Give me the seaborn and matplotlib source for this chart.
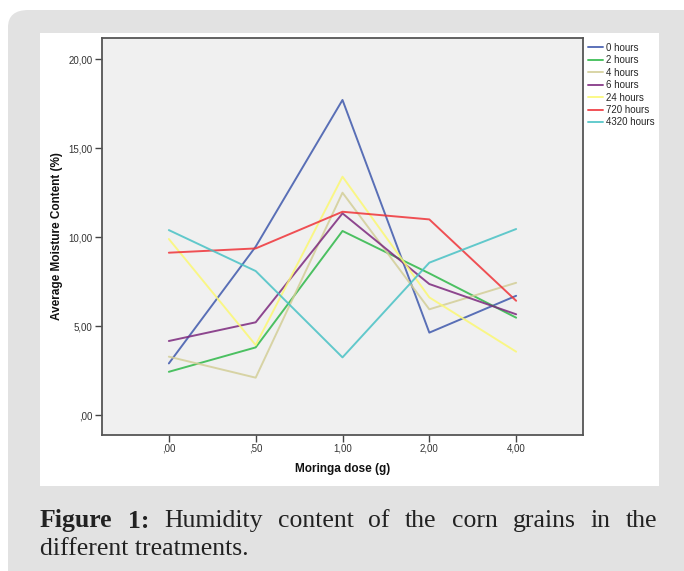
import matplotlib
matplotlib.use("Agg")
import matplotlib.pyplot as plt
import seaborn as sns
import pandas as pd
from matplotlib.patches import FancyBboxPatch, Rectangle

# ---- data ----
doses = [",00", ",50", "1,00", "2,00", "4,00"]
series_names = ["0 hours", "2 hours", "4 hours", "6 hours", "24 hours", "720 hours", "4320 hours"]
h0 = [2.90, 9.46, 17.70, 4.63, 6.70]
h2 = [2.43, 3.80, 10.34, 7.96, 5.47]
h4 = [3.28, 2.10, 12.49, 5.94, 7.43]
h6 = [4.16, 5.21, 11.33, 7.36, 5.66]
h24 = [9.89, 3.93, 13.39, 6.61, 3.56]
h720 = [9.12, 9.36, 11.42, 10.99, 6.42]
h4320 = [10.39, 8.09, 3.24, 8.56, 10.45]
yticks = [0, 5, 10, 15, 20]
ytick_labels = [",00", "5,00", "10,00", "15,00", "20,00"]
colors = ["#3E58AC", "#2EB848", "#D3CE97", "#7C287D", "#FBF873", "#EF3338", "#48C2C5"]

values = [h0, h2, h4, h6, h24, h720, h4320]
rows = []
for name, vals in zip(series_names, values):
    for d, v in zip(doses, vals):
        rows.append({"dose": d, "moisture": v, "series": name})
df = pd.DataFrame(rows)

sns.set_style("white")
plt.rcParams["font.family"] = ["Liberation Sans", "DejaVu Sans"]

W, H = 684, 571
fig = plt.figure(figsize=(W / 100, H / 100), dpi=100)
fig.patch.set_facecolor("white")

# background card
card = FancyBboxPatch((8 / W, -20 / H), (W + 10) / W, (H - 10 + 20) / H,
                      boxstyle="round,pad=0,rounding_size=0.03",
                      transform=fig.transFigure, facecolor="#e2e2e2",
                      edgecolor="none", zorder=-10)
fig.patches.append(card)
panel = Rectangle((40 / W, 1 - 486 / H), (659 - 40) / W, (486 - 33) / H,
                  transform=fig.transFigure, facecolor="white",
                  edgecolor="none", zorder=-9)
fig.patches.append(panel)

ax = fig.add_axes([102 / W, 1 - 435 / H, (583 - 102) / W, (435 - 38) / H])
ax.set_facecolor("#f0f0f0")

sns.lineplot(data=df, x="dose", y="moisture", hue="series", hue_order=series_names,
             palette=colors, linewidth=1.4, alpha=0.85, ax=ax, sort=False)

ax.set_xlim(-0.77, 4.77)
ax.set_ylim(-1.12, 21.18)
ax.set_yticks(yticks)
ax.set_yticklabels(ytick_labels)
ax.set_xticks(range(len(doses)))
ax.set_xticklabels(doses)
ax.tick_params(axis="both", direction="out", length=5, width=1, color="#444444",
               labelsize=7, labelcolor="#333333", pad=2, bottom=True, left=True)
ax.tick_params(axis="x", pad=1)
for s in ax.spines.values():
    s.set_color("#555555")
    s.set_linewidth(1.3)
    s.set_visible(True)

ax.set_xlabel("Moringa dose (g)", fontsize=8.5, fontweight="bold", labelpad=7, color="#111111")
ax.set_ylabel("Average Moisture Content (%)", fontsize=8.5, fontweight="bold", color="#111111")
ax.yaxis.set_label_coords(-0.082, 0.5)

leg = ax.legend(loc="upper left", bbox_to_anchor=(1.0, 1.0), frameon=False,
                fontsize=7, handlelength=1.6, handletextpad=0.3, labelspacing=0.25,
                borderaxespad=0.3, borderpad=0.2)
for line in leg.get_lines():
    line.set_linewidth(1.4)

# caption, justified first line
fig.canvas.draw()
renderer = fig.canvas.get_renderer()
cap_font = dict(family=["Liberation Serif", "DejaVu Serif"], fontsize=18.5, color="#222222")
line1 = [("Figure", "bold"), ("1:", "bold"), ("Humidity", "normal"), ("content", "normal"),
         ("of", "normal"), ("the", "normal"), ("corn", "normal"), ("grains", "normal"),
         ("in", "normal"), ("the", "normal")]
y1 = 1 - 521 / H
texts = []
for w, wt in line1:
    t = fig.text(0, y1, w, fontweight=wt, va="center", ha="left", **cap_font)
    texts.append(t)
widths = [t.get_window_extent(renderer).width for t in texts]
x_left, x_right = 40, 657
gap = (x_right - x_left - sum(widths)) / (len(texts) - 1)
x = x_left
for t, w in zip(texts, widths):
    t.set_x(x / W)
    x += w + gap
fig.text(40 / W, 1 - 549 / H, "different treatments.", va="center", ha="left", **cap_font)

fig.savefig("out.png", dpi=100, facecolor=fig.get_facecolor())
